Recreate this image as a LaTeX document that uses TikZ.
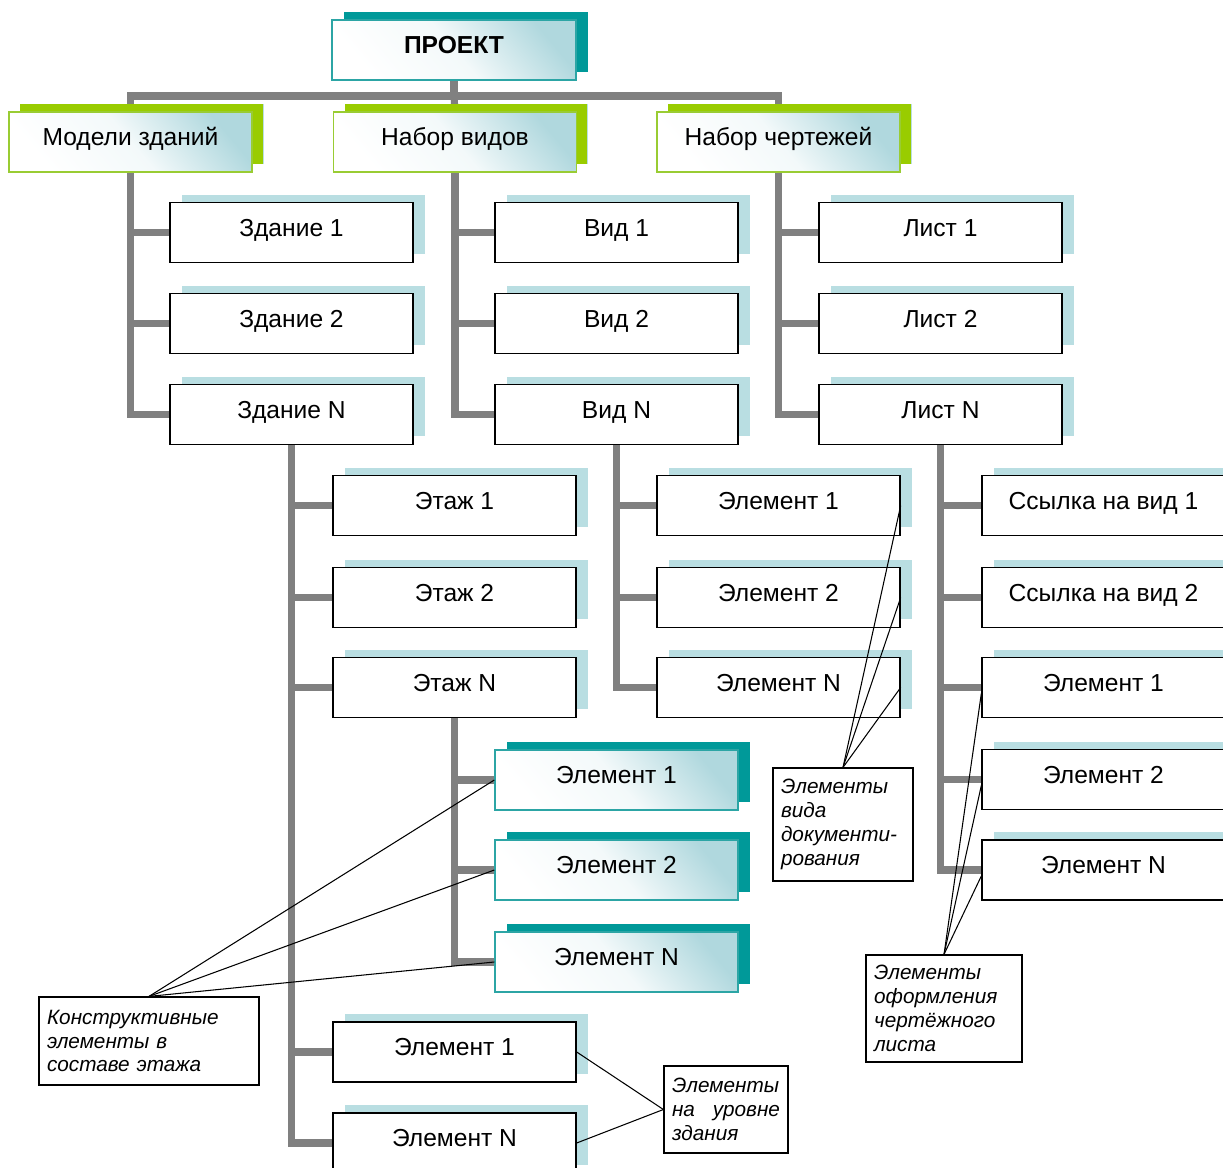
\documentclass[tikz,border=0pt]{standalone}
\usepackage{fontspec}
\setmainfont{Liberation Sans}
\usetikzlibrary{shadows, calc}
\definecolor{tealdark}{RGB}{0,153,153}
\definecolor{tealline}{RGB}{44,165,165}
\definecolor{greenshadow}{RGB}{153,204,0}
\definecolor{greenline}{RGB}{153,204,51}
\definecolor{lightshadow}{RGB}{185,222,226}
\definecolor{gradblue}{RGB}{176,216,222}
\definecolor{treegray}{RGB}{128,128,128}
\pgfdeclarelayer{background}
\pgfsetlayers{background,main}

\begin{document}
\begin{tikzpicture}[x=0.02cm, y=-0.02cm,
    box/.style={draw=black, line width=0.8pt, fill=white, minimum width=4.86cm, minimum height=1.2cm,
      align=center, font=\fontsize{14}{16}\selectfont, text height=10pt, text depth=6pt,
      drop shadow={shadow xshift=0.24cm, shadow yshift=0.16cm, fill=lightshadow, opacity=1}},
    glossy/.style={top color=gradblue, bottom color=white, middle color=white!85!gradblue, shading angle=-50},
    tealbox/.style={box, draw=tealline, glossy,
      drop shadow={shadow xshift=0.24cm, shadow yshift=0.16cm, fill=tealdark, opacity=1}},
    greenbox/.style={box, draw=greenline, glossy,
      drop shadow={shadow xshift=0.22cm, shadow yshift=0.16cm, fill=greenshadow, opacity=1}},
    note/.style={draw=black, line width=0.7pt, fill=white, align=left, inner xsep=0.16cm,
      font=\fontsize{11.8}{13.6}\selectfont\itshape},
    tree/.style={draw=treegray, line width=4pt},
    leader/.style={draw=black, line width=0.6pt}
  ]
    \clip (0, 0) rectangle (1223, 1168);

    % Project
    \node[tealbox, minimum width=4.88cm, font=\fontsize{14}{16}\selectfont\bfseries] (proj) at (454, 50) {ПРОЕКТ};

    % Second level
    \node[greenbox] (models) at (130.5, 142) {Модели зданий};
    \node[greenbox] (views) at (455, 142) {Набор видов};
    \node[greenbox] (sheets) at (778.5, 142) {Набор чертежей};

    % Buildings
    \node[box] (bld1) at (291.5, 232.5) {Здание 1};
    \node[box] (bld2) at (291.5, 323.5) {Здание 2};
    \node[box] (bldN) at (291.5, 414.5) {Здание N};

    % Views
    \node[box] (view1) at (616.5, 232.5) {Вид 1};
    \node[box] (view2) at (616.5, 323.5) {Вид 2};
    \node[box] (viewN) at (616.5, 414.5) {Вид N};

    % Sheets
    \node[box] (sheet1) at (940.5, 232.5) {Лист 1};
    \node[box] (sheet2) at (940.5, 323.5) {Лист 2};
    \node[box] (sheetN) at (940.5, 414.5) {Лист N};

    % Floors
    \node[box] (floor1) at (454.5, 505.5) {Этаж 1};
    \node[box] (floor2) at (454.5, 597.5) {Этаж 2};
    \node[box] (floorN) at (454.5, 687.5) {Этаж N};

    % View elements
    \node[box] (vel1) at (778.5, 505.5) {Элемент 1};
    \node[box] (vel2) at (778.5, 597.5) {Элемент 2};
    \node[box] (velN) at (778.5, 687.5) {Элемент N};

    % Sheet contents
    \node[box] (ref1) at (1103.5, 505.5) {Ссылка на вид 1};
    \node[box] (ref2) at (1103.5, 597.5) {Ссылка на вид 2};
    \node[box] (sel1) at (1103.5, 687.5) {Элемент 1};
    \node[box] (sel2) at (1103.5, 779.5) {Элемент 2};
    \node[box] (selN) at (1103.5, 870) {Элемент N};

    % Floor elements
    \node[tealbox] (fel1) at (616.5, 780) {Элемент 1};
    \node[tealbox] (fel2) at (616.5, 870) {Элемент 2};
    \node[tealbox] (felN) at (616.5, 962) {Элемент N};

    % Building elements
    \node[box] (bel1) at (454.5, 1052) {Элемент 1};
    \node[box] (belN) at (454.5, 1143) {Элемент N};

    % Notes
    \node[note, text width=2.48cm, minimum height=2.26cm] (noteview) at (843, 824.5) {Элементы\\вида\\документи-\\рования};
    \node[note, text width=2.8cm, minimum height=2.14cm] (notesheet) at (944, 1008.5) {Элементы\\оформления\\чертёжного\\листа};
    \node[note, text width=4.08cm, minimum height=1.76cm] (notefloor) at (149, 1041) {Конструктивные\\элементы в\\составе этажа};
    \node[note, text width=2.16cm, minimum height=1.74cm] (notebld) at (726, 1109.5) {Элементы\\на\hfill уровне\\здания};

    % Tree lines
    \begin{pgfonlayer}{background}
      \coordinate (bar) at (454, 96);
      \draw[tree] (proj.south) -- (bar);
      \draw[tree] (models.north) |- (bar) -| (sheets.north);
      \draw[tree] (bar) -- (views.north);
      \foreach \child in {bld1, bld2, bldN}
        \draw[tree] (models.south) |- (\child.west);
      \foreach \child in {view1, view2, viewN}
        \draw[tree] (views.south) |- (\child.west);
      \foreach \child in {sheet1, sheet2, sheetN}
        \draw[tree] (sheets.south) |- (\child.west);
      \foreach \child in {floor1, floor2, floorN, bel1, belN}
        \draw[tree] (bldN.south) |- (\child.west);
      \foreach \child in {vel1, vel2, velN}
        \draw[tree] (viewN.south) |- (\child.west);
      \foreach \child in {ref1, ref2, sel1, sel2, selN}
        \draw[tree] (sheetN.south) |- (\child.west);
      \foreach \child in {fel1, fel2, felN}
        \draw[tree] (floorN.south) |- (\child.west);
    \end{pgfonlayer}

    % Leader lines
    \foreach \el in {vel1, vel2, velN}
      \draw[leader] (noteview.north) -- (\el.east);
    \foreach \el in {sel1, sel2, selN}
      \draw[leader] (notesheet.north) -- ([yshift=-0.12cm]\el.west);
    \foreach \el in {fel1, fel2, felN}
      \draw[leader] (notefloor.north) -- (\el.west);
    \foreach \el in {bel1, belN}
      \draw[leader] (notebld.west) -- (\el.east);

  \end{tikzpicture}
\end{document}
